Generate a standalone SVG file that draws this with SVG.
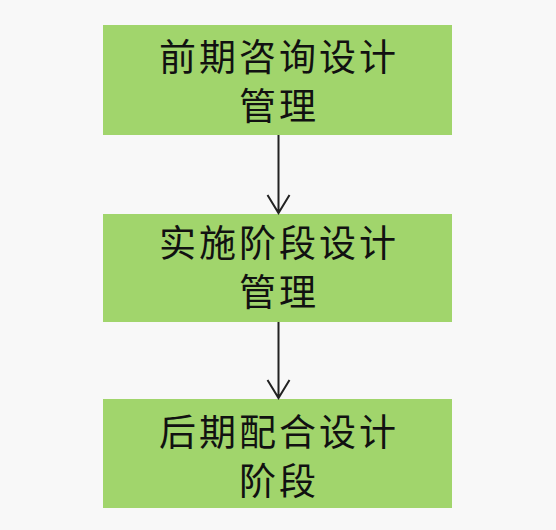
<svg xmlns="http://www.w3.org/2000/svg" width="556" height="530" viewBox="0 0 556 530">
<style>
.box{fill:#a1d56c;}
.t{font-family:"Noto Sans CJK SC","Noto Sans CJK JP",sans-serif;font-size:37px;letter-spacing:3px;fill:#111;text-anchor:middle;}
.c{stroke:#222;stroke-width:2;fill:none;}
</style>
<rect width="556" height="530" fill="#f8f8f8"/>
<g id="node1"><rect class="box" x="103" y="25" width="349" height="110"/>
<text class="t" x="279" y="71">前期咨询设计</text><text class="t" x="279" y="120">管理</text></g>
<g id="node2"><rect class="box" x="103" y="214" width="349" height="108"/>
<text class="t" x="279" y="257">实施阶段设计</text><text class="t" x="279" y="306">管理</text></g>
<g id="node3"><rect class="box" x="103" y="399" width="349" height="109"/>
<text class="t" x="279" y="446">后期配合设计</text><text class="t" x="279" y="495">阶段</text></g>
<g id="connectors">
<path class="c" d="M278.5 135V213M267.5 195L278.5 213L289.5 195"/>
<path class="c" d="M278.5 322V398M267.5 380L278.5 398L289.5 380"/>
</g>
</svg>
